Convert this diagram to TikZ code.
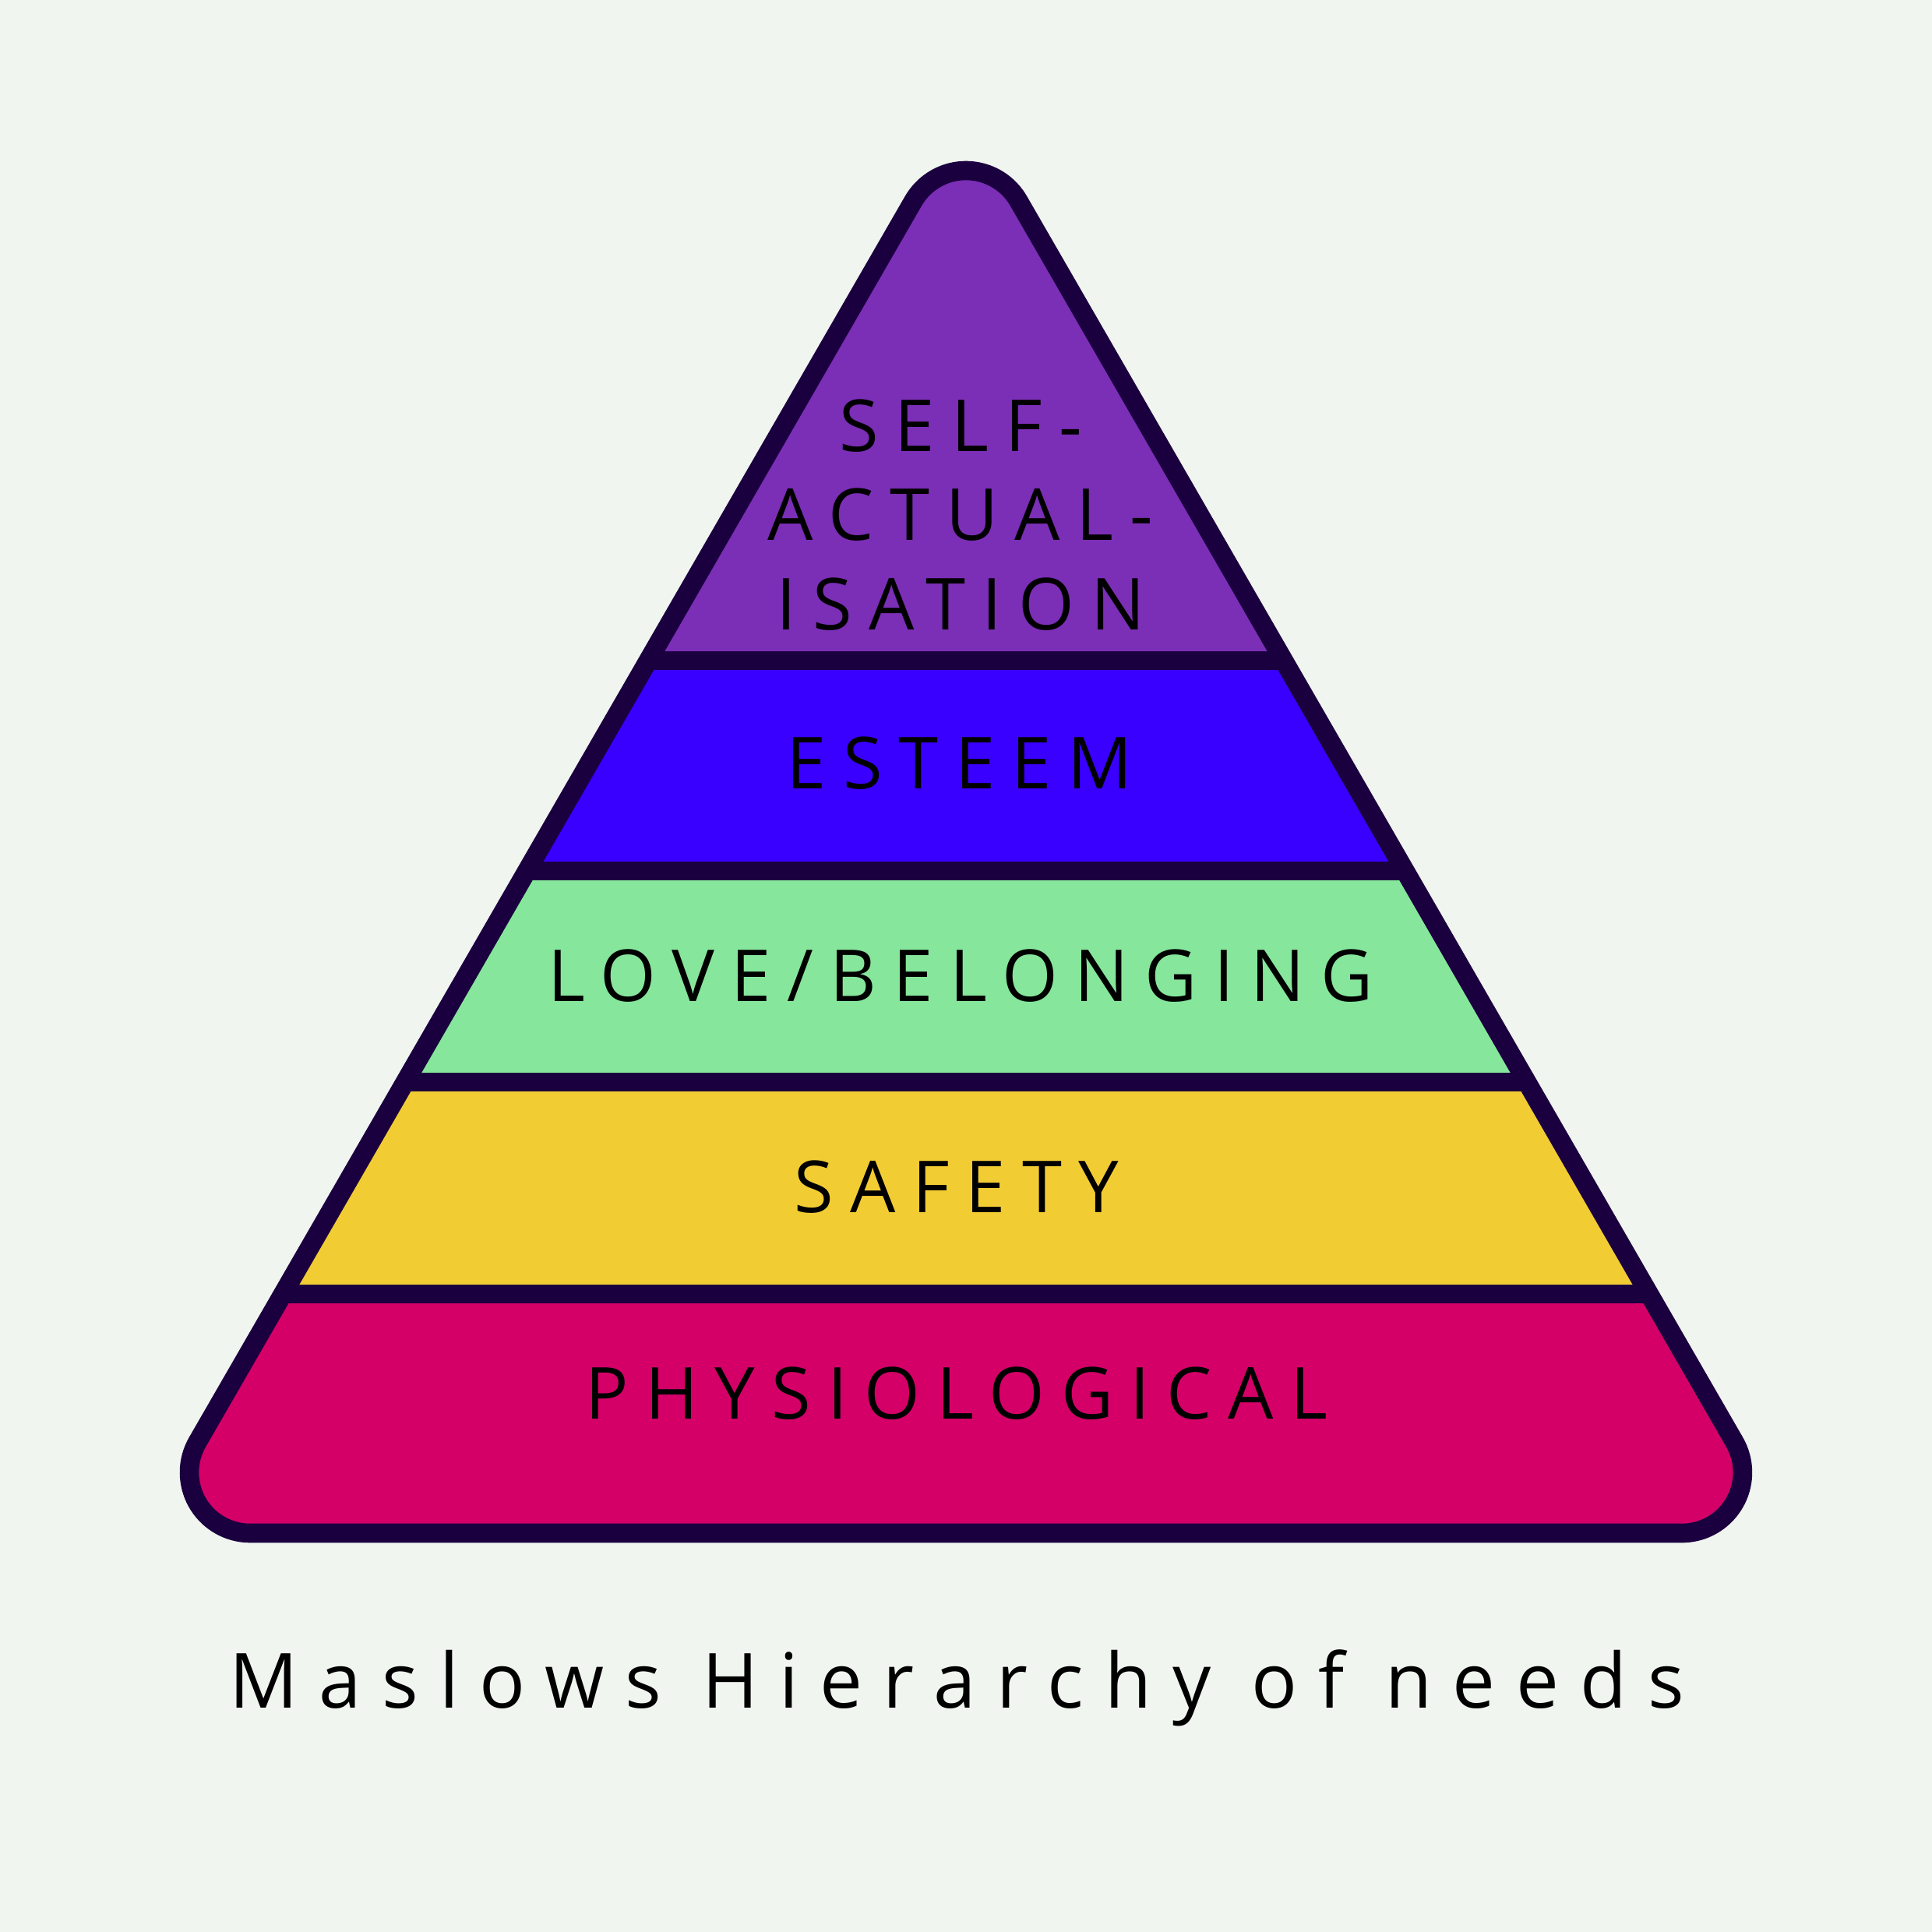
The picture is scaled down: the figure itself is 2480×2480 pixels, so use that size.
\documentclass[tikz,border=0pt]{standalone}
\usepackage{fontspec}
\setmainfont{Open Sans}
\newfontfamily\levelfont{Open Sans}[LetterSpace=23]
\newfontfamily\titlefont{Open Sans}[LetterSpace=27.5]
\definecolor{bg}{HTML}{F0F5EF}
\definecolor{ink}{HTML}{1B003F}
\definecolor{selfcol}{HTML}{7B2EB6}
\definecolor{esteemcol}{HTML}{3A00FF}
\definecolor{lovecol}{HTML}{86E69B}
\definecolor{safecol}{HTML}{F2CC33}
\definecolor{physcol}{HTML}{D40068}
% outline of the pyramid, corners rounded with r = 78
\newcommand\pyramidpath{(253.5,1851) arc[start angle=210,end angle=90,radius=78]
  -- (2158.9,1968) arc[start angle=90,end angle=-30,radius=78]
  -- (1307.5,258) arc[start angle=-30,end angle=-150,radius=78] -- cycle}
\begin{document}
\begin{tikzpicture}[x=0.01cm,y=-0.01cm,
  level/.style={font=\levelfont\fontsize{26.2pt}{32.6pt}\selectfont,
    align=center,inner sep=0pt,text=black},
  band/.style={draw=ink,line width=7pt}]
\fill[bg] (0,0) rectangle (2480,2480);
% the five layers
\begin{scope}
\clip \pyramidpath;
\fill[selfcol] (0,0) rectangle (2480,848);
\fill[esteemcol] (0,848) rectangle (2480,1118);
\fill[lovecol] (0,1118) rectangle (2480,1389);
\fill[safecol] (0,1389) rectangle (2480,1661);
\fill[physcol] (0,1661) rectangle (2480,2480);
\foreach \y in {848,1118,1389,1661}
  \draw[band] (0,\y) -- (2480,\y);
\end{scope}
\draw[band] \pyramidpath;
% labels
\node[level] (self) at (1233,661) {SELF-\\ACTUAL-\\ISATION};
\node[level,anchor=base] (esteem) at (1232,1012) {ESTEEM};
\node[level,anchor=base] (love) at (1233,1285) {LOVE/BELONGING};
\node[level,anchor=base] (safety) at (1228,1556) {SAFETY};
\node[level,anchor=base] (phys) at (1228,1821) {PHYSIOLOGICAL};
\node[font=\titlefont\fontsize{27.8pt}{32pt}\selectfont,inner sep=0pt,anchor=base]
  (title) at (1228,2192) {Maslows Hierarchy of needs};
\end{tikzpicture}
\end{document}
